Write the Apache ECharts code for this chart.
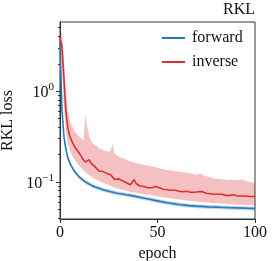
<!DOCTYPE html>
<html>
<head>
<meta charset="utf-8">
<script src="https://cdn.jsdelivr.net/npm/echarts@6/dist/echarts.min.js"></script>
<style>
html,body{margin:0;padding:0;background:#fff;}
#c{width:274px;height:261px;}
</style>
</head>
<body>
<div id="c"></div>
<script>
// ---- data (epoch 0..100) ----
const epochs = Array.from({length: 101}, (_, i) => i);

const forwardMean = [
 3.5, 0.62, 0.32, 0.23, 0.185, 0.162, 0.147, 0.135, 0.126, 0.119,
 0.113, 0.108, 0.104, 0.1, 0.097, 0.095, 0.092, 0.09, 0.088, 0.086,
 0.085, 0.083, 0.082, 0.081, 0.08, 0.079, 0.078, 0.077, 0.076, 0.0755,
 0.0745, 0.074, 0.0735, 0.073, 0.0722, 0.0716, 0.071, 0.0703, 0.0697, 0.069,
 0.0683, 0.0676, 0.067, 0.0663, 0.0656, 0.065, 0.0643, 0.0636, 0.063, 0.0624,
 0.0618, 0.0612, 0.0606, 0.06, 0.0595, 0.059, 0.0585, 0.058, 0.0576, 0.0572,
 0.0568, 0.0564, 0.056, 0.0557, 0.0554, 0.0551, 0.0548, 0.0546, 0.0544, 0.0542,
 0.054, 0.0538, 0.0537, 0.0535, 0.0534, 0.0532, 0.0531, 0.053, 0.0529, 0.0528,
 0.0527, 0.0526, 0.0525, 0.0524, 0.0523, 0.0522, 0.0521, 0.052, 0.0519, 0.0518,
 0.0517, 0.0516, 0.0515, 0.0514, 0.0514, 0.0513, 0.0512, 0.0511, 0.051, 0.0509, 0.0508
];
const forwardUpper = [
 3.7, 0.68, 0.34, 0.243, 0.195, 0.17, 0.154, 0.142, 0.132, 0.125,
 0.119, 0.113, 0.109, 0.105, 0.102, 0.1, 0.097, 0.095, 0.092, 0.09,
 0.089, 0.087, 0.086, 0.085, 0.084, 0.083, 0.082, 0.081, 0.08, 0.079,
 0.078, 0.0777, 0.077, 0.0766, 0.0758, 0.0752, 0.0745, 0.0738, 0.0732, 0.0725,
 0.0717, 0.071, 0.0703, 0.0696, 0.0689, 0.0682, 0.0675, 0.0668, 0.0661, 0.0655,
 0.0649, 0.0642, 0.0636, 0.063, 0.0625, 0.062, 0.0614, 0.0609, 0.0605, 0.06,
 0.0596, 0.0592, 0.0588, 0.0585, 0.0582, 0.0579, 0.0575, 0.0573, 0.0571, 0.0569,
 0.0567, 0.0565, 0.0564, 0.0562, 0.0561, 0.0559, 0.0558, 0.0556, 0.0555, 0.0554,
 0.0553, 0.0552, 0.0551, 0.055, 0.0549, 0.0548, 0.0547, 0.0546, 0.0545, 0.0544,
 0.0543, 0.0542, 0.0541, 0.054, 0.054, 0.0539, 0.0538, 0.0537, 0.0536, 0.0535, 0.0534
];
const forwardLower = [
 3.3, 0.57, 0.3, 0.217, 0.175, 0.154, 0.14, 0.128, 0.12, 0.113,
 0.107, 0.103, 0.099, 0.095, 0.092, 0.09, 0.087, 0.085, 0.084, 0.082,
 0.081, 0.079, 0.078, 0.077, 0.076, 0.075, 0.074, 0.073, 0.072, 0.0717,
 0.0708, 0.0703, 0.0698, 0.0694, 0.0686, 0.068, 0.0675, 0.0668, 0.0662, 0.0656,
 0.0649, 0.0642, 0.0637, 0.063, 0.0623, 0.0618, 0.0611, 0.0604, 0.0599, 0.0593,
 0.0587, 0.0581, 0.0576, 0.057, 0.0565, 0.0561, 0.0556, 0.0551, 0.0547, 0.0543,
 0.054, 0.0536, 0.0532, 0.0529, 0.0526, 0.0523, 0.0521, 0.0519, 0.0517, 0.0515,
 0.0513, 0.0511, 0.051, 0.0508, 0.0507, 0.0505, 0.0504, 0.0504, 0.0503, 0.0502,
 0.0501, 0.05, 0.0499, 0.0498, 0.0497, 0.0496, 0.0495, 0.0494, 0.0493, 0.0492,
 0.0491, 0.049, 0.0489, 0.0488, 0.0488, 0.0487, 0.0486, 0.0485, 0.0484, 0.0483, 0.0482
];

const inverseMean = [
 3.9, 3.1, 1.4, 0.6, 0.4, 0.32, 0.285, 0.255, 0.235, 0.22,
 0.205, 0.19, 0.175, 0.166, 0.17, 0.175, 0.16, 0.155, 0.146, 0.14,
 0.132, 0.128, 0.13, 0.128, 0.124, 0.126, 0.12, 0.115, 0.106, 0.104,
 0.108, 0.11, 0.103, 0.1, 0.098, 0.095, 0.093, 0.098, 0.106, 0.096,
 0.092, 0.09, 0.088, 0.089, 0.087, 0.086, 0.085, 0.086, 0.084, 0.089,
 0.092, 0.086, 0.084, 0.083, 0.084, 0.082, 0.082, 0.081, 0.08, 0.081,
 0.079, 0.079, 0.08, 0.078, 0.078, 0.079, 0.077, 0.077, 0.076, 0.077,
 0.077, 0.078, 0.081, 0.078, 0.076, 0.075, 0.076, 0.074, 0.073, 0.073,
 0.074, 0.073, 0.072, 0.073, 0.072, 0.071, 0.072, 0.071, 0.071, 0.072,
 0.071, 0.07, 0.071, 0.07, 0.071, 0.07, 0.07, 0.069, 0.07, 0.069, 0.069
];
const inverseUpper = [
 4.8, 4.3, 2.3, 1.0, 0.62, 0.48, 0.42, 0.38, 0.35, 0.33,
 0.315, 0.3, 0.29, 0.54, 0.4, 0.32, 0.28, 0.265, 0.255, 0.245,
 0.235, 0.23, 0.225, 0.22, 0.217, 0.215, 0.22, 0.26, 0.205, 0.198,
 0.19, 0.186, 0.183, 0.18, 0.176, 0.172, 0.168, 0.166, 0.163, 0.161,
 0.158, 0.157, 0.155, 0.153, 0.152, 0.151, 0.15, 0.148, 0.146, 0.145,
 0.143, 0.141, 0.139, 0.138, 0.137, 0.135, 0.134, 0.133, 0.132, 0.131,
 0.131, 0.13, 0.129, 0.128, 0.127, 0.126, 0.125, 0.124, 0.122, 0.121,
 0.12, 0.121, 0.125, 0.12, 0.117, 0.115, 0.114, 0.112, 0.111, 0.109,
 0.108, 0.108, 0.107, 0.107, 0.106, 0.106, 0.105, 0.105, 0.106, 0.105,
 0.105, 0.104, 0.105, 0.106, 0.105, 0.103, 0.101, 0.1, 0.099, 0.098, 0.097
];
const inverseLower = [
 3.0, 1.9, 0.7, 0.36, 0.27, 0.225, 0.2, 0.183, 0.17, 0.158,
 0.149, 0.141, 0.134, 0.128, 0.123, 0.119, 0.115, 0.111, 0.108, 0.105,
 0.102, 0.1, 0.098, 0.096, 0.094, 0.092, 0.09, 0.088, 0.087, 0.085,
 0.084, 0.083, 0.082, 0.081, 0.08, 0.079, 0.078, 0.077, 0.077, 0.076,
 0.075, 0.0745, 0.074, 0.0734, 0.0728, 0.0722, 0.0716, 0.071, 0.0704, 0.0698,
 0.0692, 0.0686, 0.068, 0.0675, 0.067, 0.0665, 0.066, 0.0655, 0.065, 0.0646,
 0.0642, 0.0638, 0.0634, 0.063, 0.0626, 0.0622, 0.0619, 0.0616, 0.0613, 0.061,
 0.0607, 0.0604, 0.0601, 0.0598, 0.0595, 0.0593, 0.0591, 0.0589, 0.0587, 0.0585,
 0.0583, 0.0581, 0.0579, 0.0577, 0.0575, 0.0573, 0.0571, 0.0569, 0.0567, 0.0565,
 0.0563, 0.0561, 0.056, 0.0559, 0.0558, 0.0557, 0.0556, 0.0555, 0.0554, 0.0553, 0.0552
];

const xTicks = [0, 50, 100];
const yMajorTicks = [0.1, 1];
const yMinorTicks = [0.04, 0.05, 0.06, 0.07, 0.08, 0.09, 0.2, 0.3, 0.4, 0.5, 0.6, 0.7, 0.8, 0.9, 2, 3, 4, 5];
const seriesNames = ['forward', 'inverse'];
const titleText = 'RKL';
const xName = 'epoch';
const yName = 'RKL loss';

// ---- build ----
const FONT = '"Liberation Serif", "DejaVu Serif", serif';
const BLUE = '#2a79b8';
const RED = '#dc2f33';
const AXC = '#333';
const pairs = (ys) => epochs.map((x, i) => [x, ys[i]]);

function bandSeries(name, lower, upper, fill, z) {
  return {
    name: name, type: 'custom', silent: true, z: z, clip: true,
    data: [[epochs[0], lower[0]]],
    encode: {x: 0, y: 1},
    renderItem: function (params, api) {
      const pts = [];
      for (let i = 0; i < epochs.length; i++) pts.push(api.coord([epochs[i], upper[i]]));
      for (let i = epochs.length - 1; i >= 0; i--) pts.push(api.coord([epochs[i], lower[i]]));
      return {type: 'polygon', shape: {points: pts}, style: {fill: fill, stroke: null}};
    }
  };
}

const chart = echarts.init(document.getElementById('c'), null, {renderer: 'canvas'});
const yBase = {
  type: 'log', min: 0.039, max: 5.77, position: 'left',
  splitLine: {show: false}, minorTick: {show: false}, minorSplitLine: {show: false}
};
chart.setOption({
  animation: false,
  backgroundColor: '#fff',
  title: {
    text: titleText, right: 19, top: 2, padding: 0,
    textStyle: {fontFamily: FONT, fontSize: 16, fontWeight: 'normal', color: '#111'}
  },
  legend: {
    orient: 'vertical', left: 162, top: 30, padding: 0, itemGap: 8,
    itemWidth: 23, itemHeight: 2, icon: 'rect',
    data: seriesNames,
    textStyle: {fontFamily: FONT, fontSize: 16, color: '#111', lineHeight: 16, padding: [0, 0, 0, 2]}
  },
  grid: {left: 60, right: 19, top: 22, bottom: 42, show: true, borderColor: AXC, borderWidth: 1,
         containLabel: false, outerBoundsMode: 'none'},
  xAxis: {
    type: 'value', min: 0, max: 100, interval: 50,
    name: xName, nameLocation: 'middle', nameGap: 23,
    nameTextStyle: {fontFamily: FONT, fontSize: 16, color: '#111'},
    axisLine: {show: true, lineStyle: {color: AXC, width: 1}},
    axisTick: {show: true, length: 4, inside: false, lineStyle: {color: AXC}, customValues: xTicks},
    axisLabel: {fontFamily: FONT, fontSize: 16, color: '#111', margin: 6, customValues: xTicks},
    splitLine: {show: false}
  },
  yAxis: [
    Object.assign({}, yBase, {
      name: yName, nameLocation: 'middle', nameGap: 40, nameRotate: 90,
      nameTextStyle: {fontFamily: FONT, fontSize: 16, color: '#111'},
      axisLine: {show: true, lineStyle: {color: AXC, width: 1}},
      axisTick: {show: true, length: 4, lineStyle: {color: AXC}, customValues: yMajorTicks},
      axisLabel: {
        margin: 6, customValues: yMajorTicks,
        formatter: (v) => {
          const e = Math.round(Math.log10(v));
          return '{b|10}{s|' + (e < 0 ? '\u2212' + (-e) : e) + '}';
        },
        rich: {
          b: {fontFamily: FONT, fontSize: 16, color: '#111', verticalAlign: 'bottom'},
          s: {fontFamily: FONT, fontSize: 11, color: '#111', verticalAlign: 'bottom', padding: [0, 0, 8, 0]}
        }
      }
    }),
    Object.assign({}, yBase, {
      axisLine: {show: false},
      axisTick: {show: true, length: 2, lineStyle: {color: AXC}, customValues: yMinorTicks},
      axisLabel: {show: false}
    })
  ],
  series: [
    bandSeries('inverseBand', inverseLower, inverseUpper, 'rgba(220,47,51,0.3)', 1),
    bandSeries('forwardBand', forwardLower, forwardUpper, 'rgba(42,121,184,0.3)', 2),
    {name: seriesNames[0], type: 'line', data: pairs(forwardMean), symbol: 'none', color: BLUE,
     lineStyle: {color: BLUE, width: 1.6}, z: 3},
    {name: seriesNames[1], type: 'line', data: pairs(inverseMean), symbol: 'none', color: RED,
     lineStyle: {color: RED, width: 1.6}, z: 4}
  ]
});
</script>
</body>
</html>
